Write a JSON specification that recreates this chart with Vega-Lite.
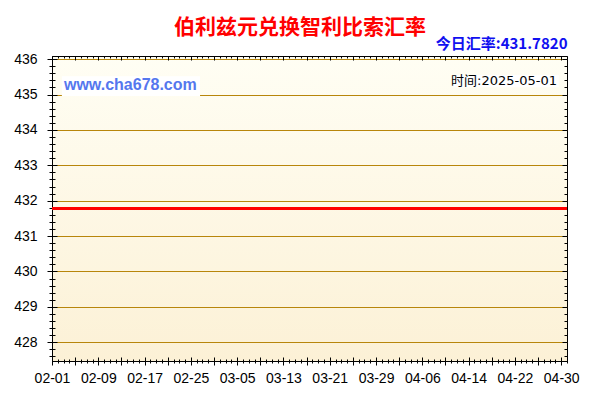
{
  "$schema": "https://vega.github.io/schema/vega-lite/v6.json",
  "width": 515,
  "height": 305,
  "autosize": "none",
  "padding": {"left": 52, "top": 56, "right": 33, "bottom": 39},
  "background": "white",
  "title": {
    "text": "伯利兹元兑换智利比索汇率",
    "color": "#ff0000",
    "font": "Noto Sans CJK SC",
    "fontSize": 21,
    "fontWeight": "bold",
    "anchor": "middle",
    "frame": "group",
    "dx": -9.5,
    "offset": -1
  },
  "config": {
    "view": {
      "stroke": "#000000",
      "strokeWidth": 1,
      "fill": {
        "gradient": "linear",
        "x1": 0, "y1": 0, "x2": 0, "y2": 1,
        "stops": [
          {"offset": 0, "color": "#fffef4"},
          {"offset": 1, "color": "#fcf1d6"}
        ]
      }
    },
    "axis": {"tickColor": "#000000", "tickWidth": 1, "domain": false, "grid": false, "title": null}
  },
  "resolve": {"axis": {"x": "independent", "y": "independent"}},
  "layer": [
    {
      "data": {"values": [
        {"start": "2025-02-02T17:00:00Z", "end": "2025-02-26T14:00:00Z", "lo": 434.96, "hi": 435.52},
        {"start": "2025-04-11T07:00:00Z", "end": "2025-04-29T14:00:00Z", "lo": 435.21, "hi": 435.55}
      ]},
      "mark": {"type": "rect", "color": "#ffffff"},
      "encoding": {
        "x": {
          "field": "start", "type": "temporal",
          "scale": {"type": "utc", "domain": [1738368000000, 1746057600000]},
          "axis": {
            "orient": "bottom",
            "values": [1738368000000, 1738713600000, 1739059200000, 1739404800000, 1739750400000, 1740096000000, 1740441600000, 1740787200000, 1741132800000, 1741478400000, 1741824000000, 1742169600000, 1742515200000, 1742860800000, 1743206400000, 1743552000000, 1743897600000, 1744243200000, 1744588800000, 1744934400000, 1745280000000, 1745625600000, 1745971200000],
            "offset": -4,
            "tickSize": 8,
            "labelExpr": "(datum.value - 1738368000000) % 691200000 == 0 ? utcFormat(datum.value, '%m-%d') : ''",
            "labelFont": "Liberation Sans",
            "labelFontSize": 14,
            "labelColor": "#000000",
            "labelPadding": 6,
            "labelOverlap": false,
            "labelFlush": false
          }
        },
        "x2": {"field": "end"},
        "y": {
          "field": "lo", "type": "quantitative",
          "scale": {"domain": [427.47, 436.09], "nice": false, "zero": false},
          "axis": {
            "orient": "left",
            "values": [428, 429, 430, 431, 432, 433, 434, 435, 436],
            "offset": -5,
            "tickSize": 10,
            "labelFont": "Liberation Sans",
            "labelFontSize": 14,
            "labelColor": "#000000",
            "labelPadding": 10,
            "labelOverlap": false,
            "labelFlush": false
          }
        },
        "y2": {"field": "hi"}
      }
    },
    {
      "data": {"values": [
        {"date": "2025-02-01", "rate": 431.782},
        {"date": "2025-05-01", "rate": 431.782}
      ]},
      "mark": {"type": "line", "color": "#ff0000", "strokeWidth": 3},
      "encoding": {
        "x": {
          "field": "date", "type": "temporal",
          "scale": {"type": "utc", "domain": [1738368000000, 1746057600000]},
          "axis": {
            "orient": "bottom",
            "tickCount": {"interval": "day", "step": 1},
            "offset": -2,
            "tickSize": 4,
            "labels": false
          }
        },
        "y": {
          "field": "rate", "type": "quantitative",
          "scale": {"domain": [427.47, 436.09], "nice": false, "zero": false},
          "axis": {
            "orient": "left",
            "values": [427.6, 427.8, 428, 428.2, 428.4, 428.6, 428.8, 429, 429.2, 429.4, 429.6, 429.8, 430, 430.2, 430.4, 430.6, 430.8, 431, 431.2, 431.4, 431.6, 431.8, 432, 432.2, 432.4, 432.6, 432.8, 433, 433.2, 433.4, 433.6, 433.8, 434, 434.2, 434.4, 434.6, 434.8, 435, 435.2, 435.4, 435.6, 435.8, 436],
            "offset": -3,
            "tickSize": 6,
            "labels": false
          }
        }
      }
    },
    {
      "data": {"values": [
        {"date": "2025-02-03T01:40:00Z", "pos": 435.28, "text": "www.cha678.com"}
      ]},
      "mark": {"type": "text", "align": "left", "baseline": "middle", "font": "Liberation Sans", "fontSize": 16, "fontWeight": "bold", "color": "#5577ee"},
      "encoding": {
        "x": {
          "field": "date", "type": "temporal",
          "scale": {"type": "utc", "domain": [1738368000000, 1746057600000]},
          "axis": {
            "orient": "top",
            "values": [1738368000000, 1738713600000, 1739059200000, 1739404800000, 1739750400000, 1740096000000, 1740441600000, 1740787200000, 1741132800000, 1741478400000, 1741824000000, 1742169600000, 1742515200000, 1742860800000, 1743206400000, 1743552000000, 1743897600000, 1744243200000, 1744588800000, 1744934400000, 1745280000000, 1745625600000, 1745971200000],
            "tickSize": -4,
            "labels": false,
            "title": "今日汇率:431.7820",
            "titleAnchor": "end",
            "titleAlign": "right",
            "titleColor": "#1010f0",
            "titleFont": "Noto Sans CJK SC",
            "titleFontSize": 15,
            "titleFontWeight": "bold",
            "titlePadding": 4
          }
        },
        "y": {
          "field": "pos", "type": "quantitative",
          "scale": {"domain": [427.47, 436.09], "nice": false, "zero": false},
          "axis": {
            "orient": "right",
            "values": [428, 429, 430, 431, 432, 433, 434, 435, 436],
            "tickSize": -5,
            "labels": false,
            "grid": true,
            "gridColor": "#b8860b",
            "gridWidth": 1,
            "gridOpacity": 1
          }
        },
        "text": {"field": "text"}
      }
    },
    {
      "data": {"values": [
        {"date": "2025-04-29T06:30:00Z", "pos": 435.38, "text": "时间:2025-05-01"}
      ]},
      "mark": {"type": "text", "align": "right", "baseline": "middle", "font": "DejaVu Sans, Noto Sans CJK SC", "fontSize": 13, "color": "#000000"},
      "encoding": {
        "x": {
          "field": "date", "type": "temporal",
          "scale": {"type": "utc", "domain": [1738368000000, 1746057600000]},
          "axis": {
            "orient": "top",
            "tickCount": {"interval": "day", "step": 1},
            "tickSize": -2,
            "labels": false
          }
        },
        "y": {
          "field": "pos", "type": "quantitative",
          "scale": {"domain": [427.47, 436.09], "nice": false, "zero": false},
          "axis": {
            "orient": "right",
            "values": [427.6, 427.8, 428, 428.2, 428.4, 428.6, 428.8, 429, 429.2, 429.4, 429.6, 429.8, 430, 430.2, 430.4, 430.6, 430.8, 431, 431.2, 431.4, 431.6, 431.8, 432, 432.2, 432.4, 432.6, 432.8, 433, 433.2, 433.4, 433.6, 433.8, 434, 434.2, 434.4, 434.6, 434.8, 435, 435.2, 435.4, 435.6, 435.8, 436],
            "tickSize": -3,
            "labels": false
          }
        },
        "text": {"field": "text"}
      }
    }
  ]
}
